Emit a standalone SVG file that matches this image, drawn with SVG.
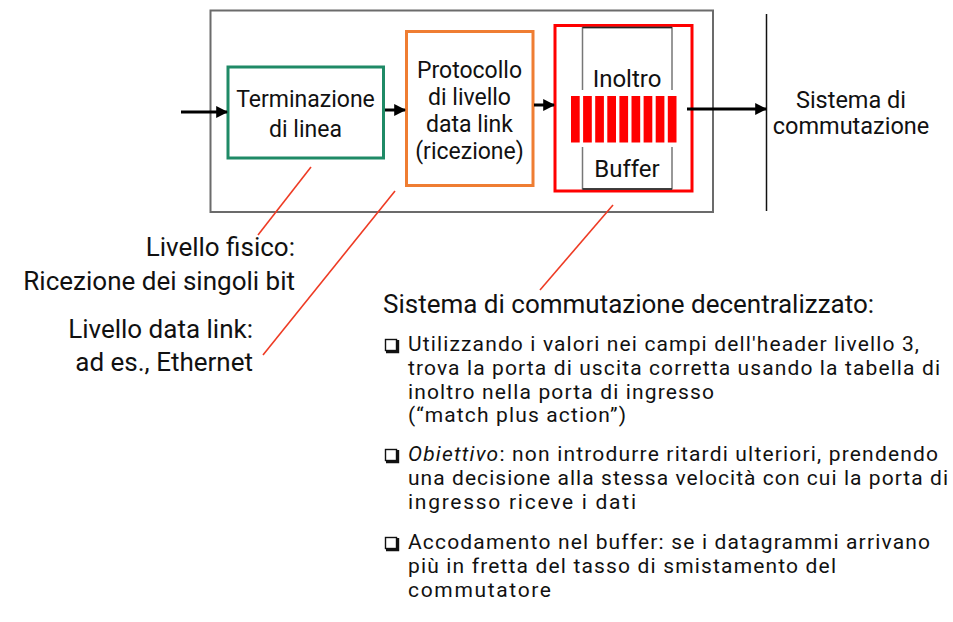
<svg xmlns="http://www.w3.org/2000/svg" width="953" height="622" viewBox="0 0 953 622">
  <defs>
    <marker id="arrow" viewBox="0 0 10 10" refX="9" refY="5" markerWidth="4" markerHeight="4" markerUnits="strokeWidth" orient="auto">
      <path d="M0,0 L10,5 L0,10 z" fill="#000"/>
    </marker>
    <style>
      text { font-family: Roboto, "Liberation Sans", sans-serif; fill: #111; }
      .box { font-size: 23px; text-anchor: middle; }
      .buf { font-size: 24px; text-anchor: middle; }
      .fab { font-size: 23.5px; text-anchor: middle; }
      .lbl { font-size: 26px; }
      .body { font-size: 21px; }
      .leader { stroke: #ee3b24; stroke-width: 1.6; fill: none; }
      .flow { stroke: #000; stroke-width: 3; fill: none; marker-end: url(#arrow); }
      .bullet { fill: none; stroke: #111; stroke-width: 1.4; }
      .shadow { fill: none; stroke: #111; stroke-width: 2.4; }
    </style>
  </defs>
  <rect width="953" height="622" fill="#fff"/>

  <!-- input port enclosure -->
  <g id="port">
    <rect x="210.5" y="10.5" width="502.5" height="201.5" fill="none" stroke="#6b6b6b" stroke-width="2"/>
  </g>

  <g id="line-termination">
    <rect x="228" y="67" width="155.5" height="91" fill="#fff" stroke="#1f8a66" stroke-width="3"/>
    <text class="box" x="305.5" y="107">Terminazione</text>
    <text class="box" x="305.5" y="137">di linea</text>
  </g>

  <g id="link-layer">
    <rect x="406.5" y="31.5" width="126.5" height="154" fill="#fff" stroke="#ef7d32" stroke-width="3"/>
    <text class="box" x="469.5" y="78">Protocollo</text>
    <text class="box" x="469.5" y="105">di livello</text>
    <text class="box" x="469.5" y="132">data link</text>
    <text class="box" x="469.5" y="159">(ricezione)</text>
  </g>

  <g id="forwarding">
    <rect x="555" y="25.5" width="137" height="165.5" fill="#fff" stroke="#ff0000" stroke-width="3"/>
    <path d="M582.5,90 V27.5 H672 V90 M582.5,147 V189 H672 V147" fill="none" stroke="#777" stroke-width="1.5"/>
    <path d="M582.5,27.5 H672 M582.5,189 H672" fill="none" stroke="#222" stroke-width="1.5"/>
    <text class="buf" x="627" y="87">Inoltro</text>
    <text class="buf" x="627" y="177">Buffer</text>
    <g fill="#ff0000">
      <rect x="571" y="96" width="8.7" height="46.5"/>
      <rect x="583.1" y="96" width="8.7" height="46.5"/>
      <rect x="595.2" y="96" width="8.7" height="46.5"/>
      <rect x="607.3" y="96" width="8.7" height="46.5"/>
      <rect x="619.4" y="96" width="8.7" height="46.5"/>
      <rect x="631.5" y="96" width="8.7" height="46.5"/>
      <rect x="643.6" y="96" width="8.7" height="46.5"/>
      <rect x="655.7" y="96" width="8.7" height="46.5"/>
      <rect x="667.8" y="96" width="8.7" height="46.5"/>
    </g>
  </g>

  <g id="switch-fabric">
    <line x1="766.5" y1="14" x2="766.5" y2="211" stroke="#111" stroke-width="1.5"/>
    <text class="fab" x="851" y="108">Sistema di</text>
    <text class="fab" x="851" y="134">commutazione</text>
  </g>

  <!-- data flow and leader lines -->
  <g id="connectors">
    <line class="flow" x1="181" y1="112" x2="227" y2="112"/>
    <line class="flow" x1="385" y1="110" x2="405" y2="110"/>
    <line class="flow" x1="534" y1="105" x2="554" y2="105"/>
    <line class="flow" x1="687" y1="109" x2="766" y2="109"/>
    <line class="leader" x1="311" y1="167" x2="258" y2="235"/>
    <line class="leader" x1="395" y1="191" x2="263" y2="355"/>
    <line class="leader" x1="613" y1="205" x2="540" y2="290"/>
  </g>

  <g id="physical-note">
    <text class="lbl" x="295" y="256" text-anchor="end">Livello fisico:</text>
    <text class="lbl" x="295" y="290" text-anchor="end">Ricezione dei singoli bit</text>
  </g>

  <g id="link-note">
    <text class="lbl" x="253" y="338" text-anchor="end">Livello data link:</text>
    <text class="lbl" x="253" y="371" text-anchor="end">ad es., Ethernet</text>
  </g>

  <g id="fabric-note">
    <text class="lbl" x="383" y="313">Sistema di commutazione decentralizzato:</text>

    <rect class="bullet" x="385.5" y="339.5" width="11" height="11"/>
    <path class="shadow" d="M386,352 H398 V340"/>
    <text class="body" x="408" y="351" textLength="511" lengthAdjust="spacing">Utilizzando i valori nei campi dell'header livello 3,</text>
    <text class="body" x="408" y="375" textLength="532" lengthAdjust="spacing">trova la porta di uscita corretta usando la tabella di</text>
    <text class="body" x="408" y="399" textLength="306" lengthAdjust="spacing">inoltro nella porta di ingresso</text>
    <text class="body" x="408" y="422" textLength="218" lengthAdjust="spacing">(“match plus action”)</text>

    <rect class="bullet" x="385.5" y="449.5" width="11" height="11"/>
    <path class="shadow" d="M386,462 H398 V450"/>
    <text class="body" x="408" y="461" textLength="530" lengthAdjust="spacing"><tspan font-style="italic">Obiettivo</tspan>: non introdurre ritardi ulteriori, prendendo</text>
    <text class="body" x="408" y="485" textLength="540" lengthAdjust="spacing">una decisione alla stessa velocità con cui la porta di</text>
    <text class="body" x="408" y="509" textLength="228" lengthAdjust="spacing">ingresso riceve i dati</text>

    <rect class="bullet" x="385.5" y="537.5" width="11" height="11"/>
    <path class="shadow" d="M386,550 H398 V538"/>
    <text class="body" x="408" y="549" textLength="522" lengthAdjust="spacing">Accodamento nel buffer: se i datagrammi arrivano</text>
    <text class="body" x="408" y="573" textLength="428" lengthAdjust="spacing">più in fretta del tasso di smistamento del</text>
    <text class="body" x="408" y="597" textLength="143" lengthAdjust="spacing">commutatore</text>
  </g>
</svg>
